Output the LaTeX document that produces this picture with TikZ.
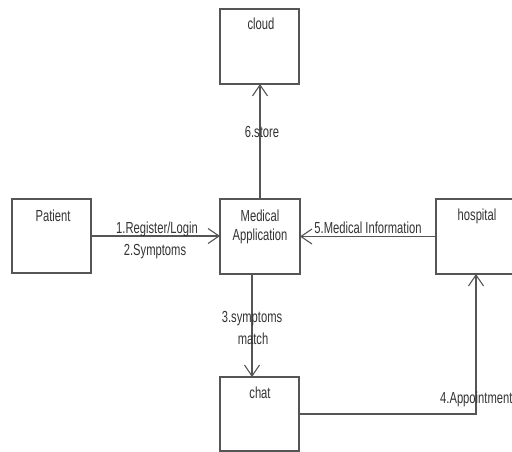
\documentclass[tikz,border=0pt]{standalone}
\usepackage{fontspec}
\setmainfont{Liberation Sans}[FakeStretch=0.7]
\usetikzlibrary{arrows.meta}
\definecolor{ln}{HTML}{555555}
\definecolor{tx}{HTML}{333333}
\tikzset{
  box/.style={draw=ln, line width=1.2pt, rectangle, inner sep=0pt, outer sep=0pt, fill=white},
  lbl/.style={font=\fontsize{16}{19}\selectfont, text=tx, inner sep=0pt, anchor=base},
  conn/.style={draw=ln, line width=1.2pt},
  arr/.style={conn, -{Straight Barb[length=11pt,width=15pt,line width=1.1pt]}}
}
\begin{document}
\begin{tikzpicture}[x=1pt,y=-1pt]
\useasboundingbox (0,0) rectangle (512,452);
% boxes
\node[box, minimum width=79pt, minimum height=75pt] (cloud) at (259.5,46.5) {};
\node[box, minimum width=79pt, minimum height=74pt] (pat) at (51.5,236) {};
\node[box, minimum width=80pt, minimum height=75pt] (app) at (260,236.5) {};
\node[box, minimum width=80pt, minimum height=75pt] (hosp) at (476,236.5) {};
\node[box, minimum width=79pt, minimum height=74pt] (chat) at (259.5,414) {};
% box texts
\node[lbl] (tcloud) at (261,30) {cloud};
\node[lbl] (tpat) at (53,221) {Patient};
\node[lbl] (tapp1) at (260,221) {Medical};
\node[lbl] (tapp2) at (260,240) {Application};
\node[lbl] (thosp) at (477,220) {hospital};
\node[lbl] (tchat) at (260,398) {chat};
% connectors
\draw[arr] (app.north) -- (app.north |- cloud.south);
\draw[arr] (pat.east) -- (pat.east -| app.west);
\draw[arr] (hosp.west) -- (hosp.west -| app.east);
\draw[arr] ([xshift=-8pt]app.south) -- ([xshift=-8pt]app.south |- chat.north);
\draw[arr] (chat.east) -- (chat.east -| hosp.south) -- (hosp.south);
% connector labels
\node[lbl] (l6) at (262,138) {6.store};
\node[lbl] (l1) at (157,233) {1.Register/Login};
\node[lbl] (l2) at (155,255) {2.Symptoms};
\node[lbl] (l5) at (368,233) {5.Medical Information};
\node[lbl] (l3a) at (252,322) {3.symptoms};
\node[lbl] (l3b) at (253,344) {match};
\node[lbl, anchor=base west] (l4) at (440,403) {4.Appointment};
\end{tikzpicture}
\end{document}
